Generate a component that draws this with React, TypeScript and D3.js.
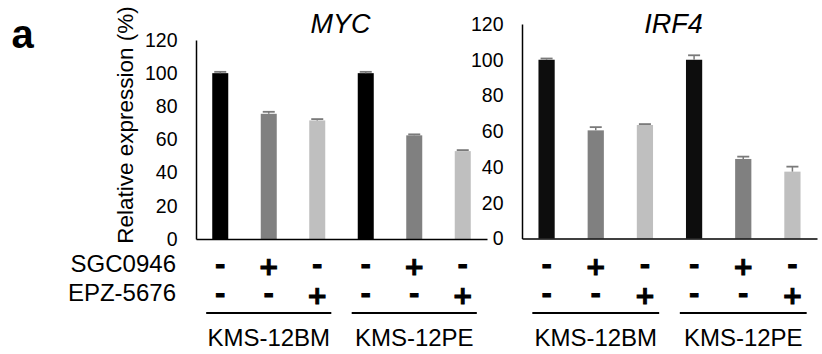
// ─ Imports ──────────────────────────────────────────────────────────────────────────────────────
import * as d3 from 'd3';
import { ReactElement, useEffect, useRef } from 'react';

// ─ Data ─────────────────────────────────────────────────────────────────────────────────────────
const conditions = ['BM-ctrl', 'BM-SGC', 'BM-EPZ', 'PE-ctrl', 'PE-SGC', 'PE-EPZ'];
const cellLines = ['KMS-12BM', 'KMS-12PE'];
const sgc0946Row = ['-', '+', '-', '-', '+', '-'];
const epz5676Row = ['-', '-', '+', '-', '-', '+'];

const mycValues = [100, 75.5, 71.5, 100, 62.5, 53];
const mycErrors = [0.8, 1.2, 0.8, 0.8, 0.6, 0.6];
const irf4Values = [100, 60.5, 63.5, 100, 44.5, 37.4];
const irf4Errors = [0.7, 1.8, 0.5, 2.5, 1.3, 2.8];

const yTicks = [0, 20, 40, 60, 80, 100, 120];

// ─ Types ────────────────────────────────────────────────────────────────────────────────────────
interface PanelSpec {
  title: string;
  values: number[];
  errors: number[];
  colors: string[];
  left: number;
  right: number;
  top: number;
  bottom: number;
  titleShift: number;
}

const FONT = '"Liberation Sans", Arial, Helvetica, sans-serif';
const SIGN_FONT = '"DejaVu Sans", sans-serif';
const SIGN_SIZE = 25;
const ERR_COLOR = '#7a7a7a';

const panels: PanelSpec[] = [
  {
    title: 'MYC',
    values: mycValues,
    errors: mycErrors,
    colors: ['#000000', '#808080', '#bfbfbf'],
    left: 196, right: 487, top: 40, bottom: 239,
    titleShift: -1
  },
  {
    title: 'IRF4',
    values: irf4Values,
    errors: irf4Errors,
    colors: ['#0d0d0d', '#808080', '#bfbfbf'],
    left: 522, right: 817, top: 24, bottom: 238.5,
    titleShift: 4
  }
];

/**
 * Two Excel-style bar panels (MYC / IRF4) with +/- treatment table underneath.
 */
const App = (): ReactElement => {
  const svgRef = useRef<SVGSVGElement>(null);

  useEffect(() => {
    if (!svgRef.current) { return; }
    const svg = d3.select(svgRef.current);
    svg.selectAll('*').remove();

    // Panel letter
    svg.append('text')
      .attr('x', 11.5)
      .attr('y', 48)
      .style('font-family', FONT)
      .style('font-weight', 'bold')
      .style('font-size', '40px')
      .text('a');

    // Y axis title (left panel only)
    svg.append('text')
      .attr('transform', 'translate(133,125) rotate(-90)')
      .attr('text-anchor', 'middle')
      .style('font-family', FONT)
      .style('font-size', '22.5px')
      .text('Relative expression (%)');

    // Row labels
    const rowLabels = [
      { text: 'SGC0946', y: 272 },
      { text: 'EPZ-5676', y: 301 }
    ];
    rowLabels.forEach(r => {
      svg.append('text')
        .attr('x', 176)
        .attr('y', r.y)
        .attr('text-anchor', 'end')
        .style('font-family', FONT)
        .style('font-size', '24px')
        .text(r.text);
    });

    panels.forEach(p => {
      const xScale = d3.scaleBand<string>()
        .domain(conditions)
        .range([p.left, p.right])
        .paddingInner(0.67)
        .paddingOuter(0.335);

      const yScale = d3.scaleLinear()
        .domain([0, 120])
        .range([p.bottom, p.top]);

      const g = svg.append('g');

      // Bars
      g.selectAll('.bar')
        .data(p.values)
        .enter()
        .append('rect')
        .attr('class', 'bar')
        .attr('x', (_, i) => xScale(conditions[i]) || 0)
        .attr('y', d => yScale(d))
        .attr('width', xScale.bandwidth())
        .attr('height', d => p.bottom - yScale(d))
        .attr('fill', (_, i) => p.colors[i % 3]);

      // Error bars (plus direction only)
      const cx = (i: number) => (xScale(conditions[i]) || 0) + xScale.bandwidth() / 2;
      p.values.forEach((v, i) => {
        g.append('line')
          .attr('x1', cx(i)).attr('x2', cx(i))
          .attr('y1', yScale(v)).attr('y2', yScale(v + p.errors[i]))
          .attr('stroke', ERR_COLOR)
          .attr('stroke-width', 1.5);
        g.append('line')
          .attr('x1', cx(i) - 6).attr('x2', cx(i) + 6)
          .attr('y1', yScale(v + p.errors[i])).attr('y2', yScale(v + p.errors[i]))
          .attr('stroke', ERR_COLOR)
          .attr('stroke-width', 1.8);
      });

      // Y axis
      const yAxis = g.append('g')
        .attr('transform', `translate(${p.left},0)`)
        .call(d3.axisLeft(yScale).tickValues(yTicks).tickSize(0).tickPadding(18.5));
      yAxis.selectAll('text')
        .style('font-family', FONT)
        .style('font-size', '19.5px')
        .attr('fill', '#000');
      yAxis.select('.domain').attr('stroke', '#000').attr('stroke-width', 1.5);

      // X axis baseline
      const xAxis = g.append('g')
        .attr('transform', `translate(0,${p.bottom})`)
        .call(d3.axisBottom(xScale).tickSize(0).tickFormat(() => ''));
      xAxis.select('.domain').attr('stroke', '#000').attr('stroke-width', 1.5);

      // Title
      g.append('text')
        .attr('x', (p.left + p.right) / 2 + p.titleShift)
        .attr('y', 33.3)
        .attr('text-anchor', 'middle')
        .style('font-family', FONT)
        .style('font-style', 'italic')
        .style('font-size', '27px')
        .text(p.title);

      // +/- table
      const rows = [
        { signs: sgc0946Row, center: 265.5 },
        { signs: epz5676Row, center: 295 }
      ];
      rows.forEach(r => {
        r.signs.forEach((s, i) => {
          g.append('text')
            .attr('x', cx(i))
            .attr('y', r.center + (s === '+' ? 0.36 : 0.29) * SIGN_SIZE)
            .attr('text-anchor', 'middle')
            .attr('stroke', '#000')
            .attr('stroke-width', 1)
            .style('font-family', SIGN_FONT)
            .style('font-weight', 'bold')
            .style('font-size', `${SIGN_SIZE}px`)
            .text(s);
        });
      });

      // Cell-line group underlines and labels
      const step = xScale.step();
      cellLines.forEach((name, k) => {
        const x1 = cx(k * 3) - step * 0.29;
        const x2 = cx(k * 3 + 2) + step * 0.29;
        g.append('line')
          .attr('x1', x1).attr('x2', x2)
          .attr('y1', 313).attr('y2', 313)
          .attr('stroke', '#000')
          .attr('stroke-width', 2.2);
        g.append('text')
          .attr('x', (x1 + x2) / 2)
          .attr('y', 345.5)
          .attr('text-anchor', 'middle')
          .style('font-family', FONT)
          .style('font-size', '24px')
          .text(name);
      });
    });
  }, []);

  return (
    <svg
      ref={svgRef}
      width={822}
      height={354}
      style={{ position: 'absolute', left: 0, top: 0, background: '#fff', display: 'block' }}
    />
  );
};

// ─ Exports ──────────────────────────────────────────────────────────────────────────────────────
export default App;
